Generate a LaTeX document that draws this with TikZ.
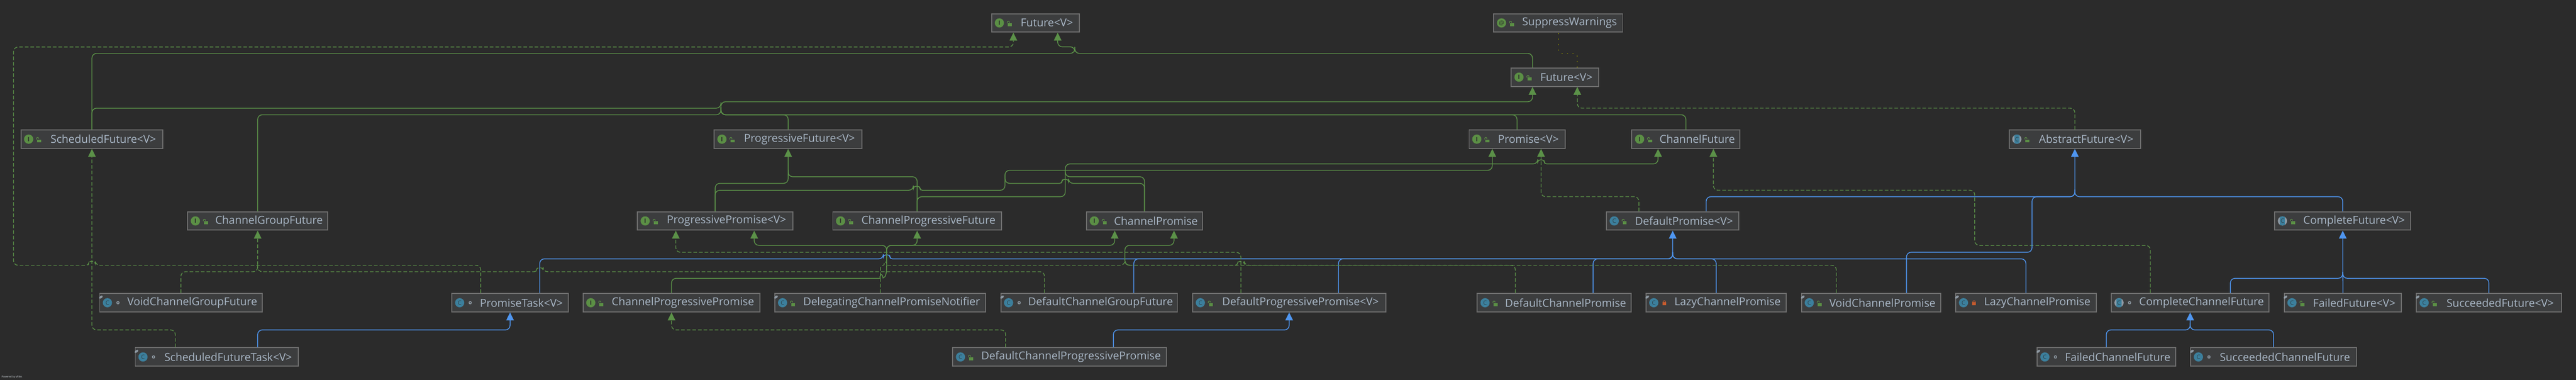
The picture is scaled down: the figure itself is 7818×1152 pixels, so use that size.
\documentclass[tikz,border=0pt]{standalone}
\usepackage{fontspec}
\setmainfont{Open Sans}
\usetikzlibrary{arrows.meta}
\definecolor{canvas}{HTML}{2B2B2B}
\definecolor{boxfill}{HTML}{3C3D3E}
\definecolor{boxline}{HTML}{6E6E6E}
\definecolor{boxtext}{HTML}{A9B7C6}
\definecolor{igreen}{HTML}{5B8F45}
\definecolor{cblue}{HTML}{3C7F9C}
\definecolor{lineblue}{HTML}{4F96F0}
\definecolor{linegreen}{HTML}{5B9148}
\definecolor{redlock}{HTML}{C75B2E}
\definecolor{dotolive}{HTML}{8A8A00}
\definecolor{iconmark}{HTML}{8E99A3}
\tikzset{
  umlbox/.style={draw=boxline,fill=boxfill,line width=3pt,minimum height=56pt,inner sep=0pt,
    text=boxtext,font=\fontsize{33.2}{36}\selectfont,execute at begin node={\hspace*{69pt}}},
  glyph/.style={inner sep=0pt,font=\fontsize{18}{18}\selectfont},
  ifaceline/.style={draw=linegreen,line width=2.4pt,rounded corners=14pt},
  implline/.style={draw=linegreen,line width=2.2pt,rounded corners=14pt,dash pattern=on 11pt off 6pt},
  extline/.style={draw=lineblue,line width=2.4pt,rounded corners=14pt},
  tip/.style={-{Triangle[length=24pt,width=23pt]}},
}
\begin{document}
\begin{tikzpicture}[x=1pt,y=-1pt]
\useasboundingbox (0,0) rectangle (7818,1152);
\fill[canvas] (0,0) rectangle (7818,1152);

\begin{scope}[every node/.style={umlbox}]
    \node (FutureJ)[minimum width=266pt] at (3142.5,69.5) {Future<V>};
    \node (Suppress)[minimum width=391pt] at (4729,69.5) {SuppressWarnings};
    \node (FutureN)[minimum width=266pt] at (4719.5,234) {Future<V>};

    \node (ScheduledF)[minimum width=431pt] at (279,422) {ScheduledFuture<V>};
    \node (ProgressiveF)[minimum width=449pt] at (2392,422) {ProgressiveFuture<V>};
    \node (PromiseV)[minimum width=291pt] at (4604,422) {Promise<V>};
    \node (ChannelF)[minimum width=328pt] at (5116.5,422) {ChannelFuture};
    \node (AbstractF)[minimum width=399pt] at (6297,422) {AbstractFuture<V>};

    \node (GroupF)[minimum width=425pt] at (782,670) {ChannelGroupFuture};
    \node (ProgressiveP)[minimum width=472pt] at (2170.5,670) {ProgressivePromise<V>};
    \node (ChannelPF)[minimum width=512pt] at (2783.5,670) {ChannelProgressiveFuture};
    \node (ChannelP)[minimum width=352pt] at (3473.5,670) {ChannelPromise};
    \node (DefaultP)[minimum width=402pt] at (5076.5,670) {DefaultPromise<V>};
    \node (CompleteF)[minimum width=413pt] at (7110,670) {CompleteFuture<V>};

    \node (VoidGroup)[minimum width=493pt] at (549,918) {VoidChannelGroupFuture};
    \node (PromiseT)[minimum width=353pt] at (1548,918) {PromiseTask<V>};
    \node (ChannelPP)[minimum width=537pt] at (2038,918) {ChannelProgressivePromise};
    \node (Delegating)[minimum width=640pt] at (2671.5,918) {DelegatingChannelPromiseNotifier};
    \node (DefaultGroup)[minimum width=536pt] at (3305.5,918) {DefaultChannelGroupFuture};
    \node (DefaultProgP)[minimum width=586pt] at (3912.5,918) {DefaultProgressivePromise<V>};
    \node (DefaultCP)[minimum width=467pt] at (4717,918) {DefaultChannelPromise};
    \node (LazyA)[minimum width=426pt] at (5208.5,918) {LazyChannelPromise};
    \node (VoidCP)[minimum width=422pt] at (5678.5,918) {VoidChannelPromise};
    \node (LazyB)[minimum width=426pt] at (6148.5,918) {LazyChannelPromise};
    \node (CompleteCF)[minimum width=479pt] at (6647,918) {CompleteChannelFuture};
    \node (FailedF)[minimum width=356pt] at (7110.5,918) {FailedFuture<V>};
    \node (SucceededF)[minimum width=440pt] at (7553.5,918) {SucceededFuture<V>};

    \node (ScheduledT)[minimum width=495pt] at (658,1082.5) {ScheduledFutureTask<V>};
    \node (DefaultCPP)[minimum width=649pt] at (3216,1082.5) {DefaultChannelProgressivePromise};
    \node (FailedCF)[minimum width=420pt] at (6392.5,1082.5) {FailedChannelFuture};
    \node (SucceededCF)[minimum width=503pt] at (6900,1082.5) {SucceededChannelFuture};
\end{scope}

\node (yfiles)[text=boxtext!45,font=\fontsize{7.5}{8}\selectfont,anchor=west,inner sep=0pt] at (5,1143) {Powered by yFiles};

% icons
\foreach \n in {FutureJ,FutureN,ScheduledF,ProgressiveF,PromiseV,ChannelF,GroupF,ProgressiveP,ChannelPF,ChannelP,ChannelPP} {
    \fill[igreen] ([xshift=25pt]\n.west) circle (14pt);
    \node (\n-I)[glyph,text=canvas] at ([xshift=25pt]\n.west) {\bfseries I};
}
\foreach \n in {Suppress} {
    \fill[igreen] ([xshift=25pt]\n.west) circle (14pt);
    \node (\n-A)[glyph,text=canvas] at ([xshift=25pt]\n.west) {@};
}
\foreach \n in {AbstractF,CompleteF,CompleteCF} {
    \fill[iconmark] ([xshift=25pt]\n.west) circle (14pt);
    \begin{scope}
        \clip ([xshift=25pt]\n.west) circle (14pt);
        \fill[cblue] ([xshift=17pt,yshift=-15pt]\n.west) rectangle ++(16,-30);
    \end{scope}
}
\foreach \n in {DefaultP,VoidGroup,PromiseT,Delegating,DefaultGroup,DefaultProgP,DefaultCP,LazyA,VoidCP,LazyB,FailedF,SucceededF,ScheduledT,DefaultCPP,FailedCF,SucceededCF} {
    \fill[cblue] ([xshift=25pt]\n.west) circle (14pt);
}
\foreach \n in {DefaultP,VoidGroup,PromiseT,Delegating,DefaultGroup,DefaultProgP,DefaultCP,LazyA,VoidCP,LazyB,FailedF,SucceededF,ScheduledT,DefaultCPP,FailedCF,SucceededCF,AbstractF,CompleteF,CompleteCF} {
    \node (\n-C)[glyph,text=canvas!70!cblue] at ([xshift=25pt]\n.west) {C};
}
\foreach \n in {VoidGroup,ScheduledT,Delegating,DefaultGroup,LazyA,VoidCP,LazyB,FailedF,SucceededF,FailedCF,SucceededCF} {
    \fill[iconmark,rotate around={35:([xshift=14pt,yshift=11pt]\n.west)}] ([xshift=14pt,yshift=11pt]\n.west) ellipse (6.5pt and 3.5pt);
}
\foreach \n in {FutureJ,FutureN,Suppress,ScheduledF,ProgressiveF,PromiseV,ChannelF,AbstractF,GroupF,ProgressiveP,ChannelPF,ChannelP,CompleteF,ChannelPP,Delegating,DefaultProgP,DefaultCP,DefaultP,VoidCP,FailedF,SucceededF,DefaultCPP} {
    \fill[igreen] ([xshift=51pt,yshift=-1pt]\n.west) rectangle ++(12,9);
    \draw[igreen,line width=1.8pt] ([xshift=49pt,yshift=-1pt]\n.west) -- ++(0,-3) arc (180:0:3.2pt) -- ++(0,1);
}
\foreach \n in {LazyA,LazyB} {
    \fill[redlock] ([xshift=51pt,yshift=-8pt]\n.west) rectangle ++(12,-10);
    \draw[redlock,line width=1.8pt] ([xshift=53pt,yshift=-2pt]\n.west) -- ++(0,-4) arc (180:0:4pt) -- ++(0,4);
}
\foreach \n in {VoidGroup,PromiseT,DefaultGroup,CompleteCF,ScheduledT,FailedCF,SucceededCF} {
    \draw[iconmark,line width=2.4pt] ([xshift=57pt]\n.west) circle (3.6pt);
}

% to the two Future<V>
\draw[ifaceline,tip] (ScheduledF.north) |- (3262,162) -- (3262,142) -| (FutureJ.south -| 3210,0);
\draw[ifaceline] (FutureN.north -| 4651,0) |- (3262,162) -- (3262,142);
\draw[ifaceline,tip] (GroupF.north) |- (2188,348) -- (2188,308.5) -| (FutureN.south -| 4651,0);
\draw[ifaceline] (ScheduledF.north) |- (2188,328) -- (2188,310);
\draw[ifaceline] (ProgressiveF.north) |- (2188,348) -- (2188,325);
\draw[ifaceline] (PromiseV.north) |- (2188,348) -- (2188,325);
\draw[ifaceline] (ChannelF.north) |- (2188,348) -- (2188,325);
\draw[implline,tip] (PromiseT.north -| 1459,0) |- (289,804.5) [rounded corners=7pt] -- (289,792.5) -- (269,792.5) -- (269,804.5) [rounded corners=14pt] -- (41,804.5) |- (3075.5,142.5) -- (FutureJ.south -| 3075.5,0);
\draw[implline,tip] (AbstractF.north) |- (4787,328) -- (FutureN.south -| 4787,0);
\draw[draw=dotolive,line width=2.6pt,dash pattern=on 2.6pt off 14pt,rounded corners=10pt] (FutureN.north -| 4787,0) |- (4730,162) -- (Suppress.south -| 4730,0);

% row three
\draw[ifaceline,tip] (ProgressiveP.north) |- (2392,556) -- (ProgressiveF.south);
\draw[ifaceline] (ChannelPF.north) |- (2392,536) -- (2392,515);
\draw[ifaceline,tip] (ProgressiveP.north) |- (2772,577) [rounded corners=7pt] -- (2772,565) -- (2792,565) -- (2792,577) [rounded corners=14pt] -- (3050,577) |- (4529,516.5) -- (PromiseV.south -| 4529,0);
\draw[ifaceline] (ChannelP.north) |- (3243,556) [rounded corners=7pt] -- (3243,544) -- (3223,544) -- (3223,556) [rounded corners=14pt] -- (3050,556) -- (3050,530);
\draw[ifaceline,tip] (ChannelPF.north) |- (3233,596.5) |- (4667,497) [rounded corners=7pt] -- (4667,485) -- (4687,485) -- (4687,497) [rounded corners=14pt] -| (ChannelF.south -| 5032,0);
\draw[ifaceline] (ChannelP.north) |- (3233,536) -- (3233,515);
\draw[implline,tip] (DefaultP.north -| 4974,0) |- (4677,596.5) -- (PromiseV.south -| 4677,0);
\draw[implline,tip] (CompleteCF.north -| 6526,0) |- (5993,744) |- (5200,577) -- (ChannelF.south -| 5200,0);
\draw[extline,tip] (DefaultP.north -| 5178,0) |- (6297,596.5) -- (AbstractF.south);
\draw[extline] (CompleteF.north) |- (6297,596.5) -- (6297,575);
\draw[extline] (VoidCP.north -| 5786,0) |- (6167,765) |- (6297,596.5) -- (6297,575);

% row four
\draw[extline,tip] (PromiseT.north -| 1638,0) |- (2681,785) [rounded corners=7pt] -- (2681,773) -- (2701,773) -- (2701,785) [rounded corners=14pt] -- (5076.5,785) -- (DefaultP.south);
\draw[extline] (DefaultGroup.north -| 3441,0) |- (5076.5,785) -- (5076.5,765);
\draw[extline] (DefaultProgP.north -| 4062,0) |- (5076.5,785) -- (5076.5,765);
\draw[extline] (DefaultCP.north -| 4835,0) |- (5076.5,785) -- (5076.5,765);
\draw[extline] (LazyA.north) |- (5076.5,785) -- (5076.5,765);
\draw[extline] (LazyB.north) |- (5076.5,785) -- (5076.5,765);

\draw[ifaceline] (ChannelPP.north) |- (2671,844);
\draw[ifaceline,sharp corners] (2671,844) -- (2671,838) .. controls (2673,830) and (2678,830) .. (2680,843) .. controls (2688,840) and (2691,832) .. (2691,800);
\draw[ifaceline,tip] (2691,800) |- (2289,744) -- (ProgressiveP.south -| 2289,0);
\draw[ifaceline,tip] (2691,800) |- (2783.5,744) -- (ChannelPF.south);
\draw[ifaceline,tip] (2691,800) |- (3383,744) -- (ChannelP.south -| 3383,0);
\draw[implline,tip] (DefaultProgP.north -| 3766,0) |- (2051,765) -- (ProgressiveP.south -| 2051,0);
\draw[implline,tip] (VoidGroup.north) |- (782,824) -- (GroupF.south);
\draw[implline] (DefaultGroup.north -| 3170,0) |- (1648,824) [rounded corners=7pt] -- (1648,812) -- (1628,812) -- (1628,824) [rounded corners=14pt] -- (782,824) -- (782,805);
\draw[ifaceline,tip] (3430,804.5) -- (3414,804.5) |- (3563,744) -- (ChannelP.south -| 3563,0);
\draw[implline,sharp corners] (Delegating.north) -- (2672,815) .. controls (2673,808) .. (2683,803) -- (2684,795) .. controls (2686,793) .. (2690,797);
\draw[implline] (2693,804.5) -- (3414,804.5) -- (3414,785);
\draw[implline] (DefaultCP.north -| 4599,0) |- (3414,804.5) -- (3414,785);
\draw[implline] (VoidCP.north -| 5573,0) |- (3776,804.5) [rounded corners=7pt] -- (3776,792.5) -- (3756,792.5) -- (3756,804.5) [rounded corners=14pt] -- (3414,804.5) -- (3414,785);

% bottom rows
\draw[implline,tip] (ScheduledT.north -| 532,0) |- (279,1000.5) -- (ScheduledF.south);
\draw[extline,tip] (ScheduledT.north -| 782,0) |- (1548,1000.5) -- (PromiseT.south);
\draw[implline,tip] (DefaultCPP.north -| 3052,0) |- (2038,1000.5) -- (ChannelPP.south);
\draw[extline,tip] (DefaultCPP.north -| 3379,0) |- (3912.5,1000.5) -- (DefaultProgP.south);
\draw[extline,tip] (FailedCF.north) |- (6647,1000.5) -- (CompleteCF.south);
\draw[extline] (SucceededCF.north) |- (6647,1000.5) -- (6647,980);
\draw[extline,tip] (FailedF.north) -- (CompleteF.south);
\draw[extline] (CompleteCF.north -| 6769,0) |- (7110,844) -- (7110,825);
\draw[extline] (SucceededF.north) |- (7110,844) -- (7110,825);
\end{tikzpicture}
\end{document}
